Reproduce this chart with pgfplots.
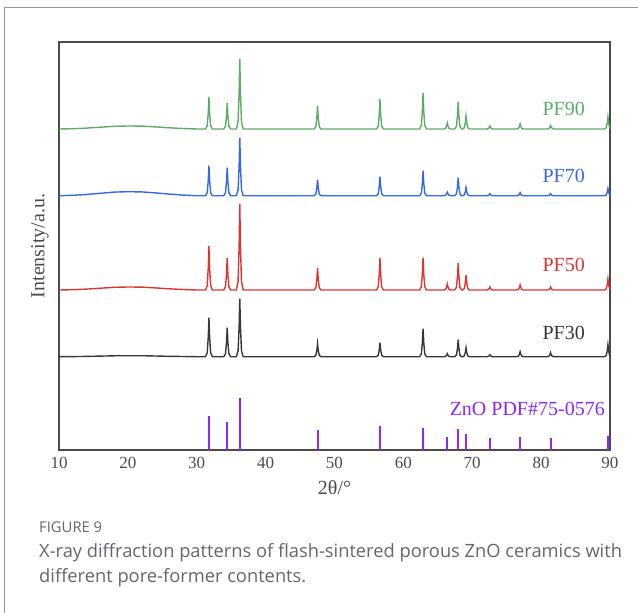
\documentclass[border=0pt]{standalone}
\usepackage{fontspec}
\setmainfont{Liberation Serif}
\newfontfamily\capfont{Open Sans}
\usepackage{pgfplots}
\pgfplotsset{compat=1.18}
\usepackage{pgfplotstable}

\definecolor{cg}{RGB}{92,172,104}
\definecolor{cb}{RGB}{52,104,228}
\definecolor{cr}{RGB}{222,52,52}
\definecolor{ck}{RGB}{55,55,55}
\definecolor{cv}{RGB}{140,40,255}
\definecolor{axc}{RGB}{75,75,75}
\definecolor{capc}{RGB}{100,100,112}
\definecolor{framec}{RGB}{150,150,160}

% x, PF90, PF70, PF50, PF30 (intensity above each baseline)
\pgfplotstableread{
x g b r k
10 0 0 0 0
12 0.3 0.4 0.3 0.1
14 0.9 1.2 0.9 0.3
16 1.8 2.4 1.8 0.6
18 2.7 3.6 2.7 0.9
20 3 4 3 1
22 2.9 3.8 2.9 1
24 2.1 2.8 2.1 0.7
26 1.2 1.6 1.2 0.4
28 0.5 0.6 0.5 0.2
30 0 0 0 0
31.27 0 0 0 0
31.52 3.2 3.0 4.4 3.9
31.67 16 15 22 19.5
31.77 32 30 44 39
31.87 16 15 22 19.5
32.02 3.2 3.0 4.4 3.9
32.27 0 0 0 0
33.92 0 0 0 0
34.17 2.6 2.8 3.2 2.9
34.32 13 14 16 14.5
34.42 26 28 32 29
34.52 13 14 16 14.5
34.67 2.6 2.8 3.2 2.9
34.92 0 0 0 0
35.75 0 0 0 0
36.00 7 5.8 8.6 5.8
36.15 35 29 43 29
36.25 70 58 86 58
36.35 35 29 43 29
36.50 7 5.8 8.6 5.8
36.75 0 0 0 0
47.04 0 0 0 0
47.29 2.3 1.6 2.2 1.3
47.44 11.5 8 11 6.5
47.54 23 16 22 13
47.64 11.5 8 11 6.5
47.79 2.3 1.6 2.2 1.3
48.04 0 0 0 0
56.10 0 0 0 0
56.35 3 1.9 3.2 1.4
56.50 15 9.5 16 7
56.60 30 19 32 14
56.70 15 9.5 16 7
56.85 3 1.9 3.2 1.4
57.10 0 0 0 0
62.36 0 0 0 0
62.61 3.6 2.5 3.2 2.8
62.76 18 12.5 16 14
62.86 36 25 32 28
62.96 18 12.5 16 14
63.11 3.6 2.5 3.2 2.8
63.36 0 0 0 0
65.88 0 0 0 0
66.13 0.6 0.4 0.6 0.3
66.28 3 1.8 3 1.5
66.38 6 3.5 6 3
66.48 3 1.8 3 1.5
66.63 0.6 0.4 0.6 0.3
66.88 0 0 0 0
67.46 0 0 0 0
67.71 2.7 1.8 2.7 1.7
67.86 13.5 9 13.5 8.5
67.96 27 18 27 17
68.06 13.5 9 13.5 8.5
68.21 2.7 1.8 2.7 1.7
68.46 0 0 0 0
68.60 0 0 0 0
68.85 1.3 0.8 1.5 0.9
69.00 6.5 4 7.5 4.5
69.10 13 8 15 9
69.20 6.5 4 7.5 4.5
69.35 1.3 0.8 1.5 0.9
69.60 0 0 0 0
72.06 0 0 0 0
72.31 0.3 0.2 0.3 0.2
72.46 1.5 1 1.5 1
72.56 3 2 3 2
72.66 1.5 1 1.5 1
72.81 0.3 0.2 0.3 0.2
73.06 0 0 0 0
76.45 0 0 0 0
76.70 0.5 0.3 0.5 0.5
76.85 2.5 1.5 2.5 2.5
76.95 5 3 5 5
77.05 2.5 1.5 2.5 2.5
77.20 0.5 0.3 0.5 0.5
77.45 0 0 0 0
80.87 0 0 0 0
81.12 0.4 0.2 0.3 0.4
81.27 1.8 1 1.5 2
81.37 3.5 2 3 4
81.47 1.8 1 1.5 2
81.62 0.4 0.2 0.3 0.4
81.87 0 0 0 0
89.20 0 0 0 0
89.45 1.2 0.7 1.1 1.2
89.60 6 3.5 5.5 6
89.70 12 7 11 12
89.80 6 3.5 5.5 6
89.95 1.2 0.7 1.1 1.2
90.00 0.6 0.3 0.5 0.6
}\xrd

% ZnO PDF#75-0576 reference lines
\pgfplotstableread{
x h
31.77 34
34.42 28
36.25 52
47.54 20
56.60 24
62.86 22
66.38 13
67.96 21
69.10 16
72.56 12
76.95 13
81.37 12
89.75 14
}\pdf

\begin{document}
\begin{tikzpicture}
\path[use as bounding box] (0pt,0pt) rectangle (638pt,-613pt);
\draw[framec, line width=1.2pt] (4.5pt,-613pt) -- (4.5pt,-7.5pt) -- (638pt,-7.5pt);
\begin{axis}[
  at={(59pt,-450pt)}, anchor=south west,
  scale only axis, width=551pt, height=408pt,
  xmin=10, xmax=90, ymin=0, ymax=408,
  xtick={10,20,...,90}, ytick=\empty,
  major tick length=0pt,
  axis line style={draw=axc, line width=1.8pt},
  /pgf/number format/assume math mode=true,
  xticklabel style={font=\fontsize{17}{17}\selectfont, text=axc, anchor=center, yshift=-13pt},
  xlabel={2θ/°},
  xlabel style={font=\fontsize{20}{20}\selectfont, text=axc, at={(axis description cs:0.5,0)}, anchor=center, yshift=-38pt},
  ylabel={Intensity/a.u.},
  ylabel style={font=\fontsize{20}{20}\selectfont, text=axc, at={(axis description cs:0,0.5)}, anchor=center, yshift=19pt},
  clip=false,
]
\addplot[cg, line width=1.4pt] table[x=x, y expr=\thisrow{g}+321] {\xrd};
\addplot[cb, line width=1.4pt] table[x=x, y expr=\thisrow{b}+254.3] {\xrd};
\addplot[cr, line width=1.4pt] table[x=x, y expr=\thisrow{r}+160] {\xrd};
\addplot[ck, line width=1.4pt] table[x=x, y expr=\thisrow{k}+93.3] {\xrd};
\addplot[cv, line width=2pt, ycomb, no marks] table[x=x, y=h] {\pdf};
\node[anchor=base east, inner sep=0pt, text=cg, font=\fontsize{20}{20}\selectfont] at (axis cs:86.37,335) {PF90};
\node[anchor=base east, inner sep=0pt, text=cb, font=\fontsize{20}{20}\selectfont] at (axis cs:86.37,268) {PF70};
\node[anchor=base east, inner sep=0pt, text=cr, font=\fontsize{20}{20}\selectfont] at (axis cs:86.37,179) {PF50};
\node[anchor=base east, inner sep=0pt, text=ck, font=\fontsize{20}{20}\selectfont] at (axis cs:86.37,110.7) {PF30};
\node[anchor=base east, inner sep=0pt, text=cv, font=\fontsize{20}{20}\selectfont] at (axis cs:89.27,35) {ZnO PDF\#75-0576};
\end{axis}
\node[anchor=base west, inner sep=0pt, text=capc, font=\capfont\fontsize{14.8}{15}\selectfont] at (39pt,-532pt) {FIGURE 9};
\node[anchor=base west, inner sep=0pt, text=capc, font=\capfont\fontsize{18.3}{18}\selectfont] at (39pt,-557pt) {X-ray diffraction patterns of flash-sintered porous ZnO ceramics with};
\node[anchor=base west, inner sep=0pt, text=capc, font=\capfont\fontsize{18.3}{18}\selectfont] at (39pt,-582pt) {different pore-former contents.};
\end{tikzpicture}
\end{document}
